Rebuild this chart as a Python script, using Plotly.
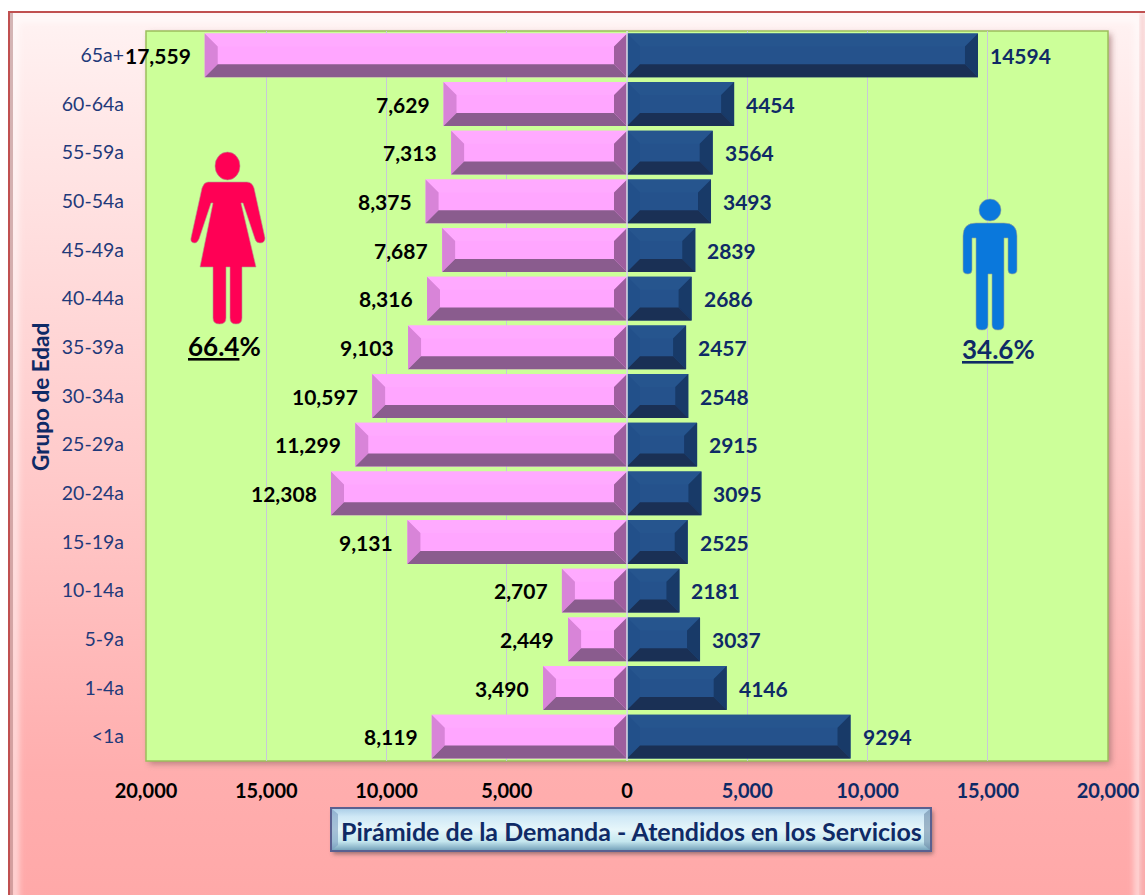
import base64
import plotly.graph_objects as go

age_groups = ["65a+", "60-64a", "55-59a", "50-54a", "45-49a", "40-44a", "35-39a", "30-34a",
              "25-29a", "20-24a", "15-19a", "10-14a", "5-9a", "1-4a", "<1a"]
women = [17559, 7629, 7313, 8375, 7687, 8316, 9103, 10597, 11299, 12308, 9131, 2707, 2449, 3490, 8119]
men = [14594, 4454, 3564, 3493, 2839, 2686, 2457, 2548, 2915, 3095, 2525, 2181, 3037, 4146, 9294]
x_ticks = [-20000, -15000, -10000, -5000, 0, 5000, 10000, 15000, 20000]
women_share = "66.4"
men_share = "34.6"
title_text = "Pirámide de la Demanda - Atendidos en los Servicios"
y_title = "Grupo de Edad"

W, H = 1145, 895
L, R, T, B = 146, 1108, 31, 761
PW, PH = R - L, B - T
FONT = "Lato"
NAVY = "#0F2A66"
BEVEL_X = 13 / PW * 40000
BEVEL_Y = 13 / (PH / 15)
HALF = 0.45
ys = list(range(len(age_groups)))


def svg_uri(body):
    svg = f'<svg xmlns="http://www.w3.org/2000/svg" width="{W}" height="{H}" viewBox="0 0 {W} {H}">{body}</svg>'
    return "data:image/svg+xml;base64," + base64.b64encode(svg.encode()).decode()


def page_image(body, layer):
    return dict(source=svg_uri(body), xref="paper", yref="paper", x=-L / PW, y=1 + T / PH,
                sizex=W / PW, sizey=H / PH, xanchor="left", yanchor="top", sizing="stretch", layer=layer)


background = f'''
<defs>
<linearGradient id="bg" x1="0" y1="0" x2="0" y2="1">
<stop offset="0" stop-color="#FFF3F3"/><stop offset="0.12" stop-color="#FFE8E8"/>
<stop offset="0.5" stop-color="#FFCBCB"/><stop offset="0.85" stop-color="#FFAEAE"/><stop offset="1" stop-color="#FFA8A8"/>
</linearGradient>
<linearGradient id="btn" x1="0" y1="0" x2="0" y2="1">
<stop offset="0" stop-color="#A8CCE6"/><stop offset="0.2" stop-color="#CFE8F6"/><stop offset="0.5" stop-color="#E6F6FA"/><stop offset="0.78" stop-color="#C4E6EE"/><stop offset="1" stop-color="#6E9CB6"/>
</linearGradient>
<filter id="soft" x="-5%" y="-5%" width="110%" height="110%"><feGaussianBlur stdDeviation="3"/></filter>
<filter id="soft2" x="-5%" y="-20%" width="110%" height="140%"><feGaussianBlur stdDeviation="2"/></filter>
<clipPath id="page"><rect x="10" y="13" width="{W}" height="{H}"/></clipPath>
</defs>
<rect width="{W}" height="{H}" fill="#FFFFFF"/>
<rect x="9" y="12" width="{W}" height="{H}" fill="url(#bg)" stroke="#C05050" stroke-width="2"/>
<g clip-path="url(#page)">
<rect x="15" y="18" width="{W - 22}" height="{H + 20}" fill="none" stroke="#FFFFFF" stroke-opacity="0.6" stroke-width="7" filter="url(#soft)"/>
<rect x="10" y="13" width="3" height="{H}" fill="#B08080" opacity="0.55"/>
<rect x="{W - 5}" y="13" width="5" height="{H}" fill="#E89090" opacity="0.35" filter="url(#soft2)"/>
</g>
<rect x="{L+3}" y="{T+3}" width="{PW}" height="{PH}" fill="#A07070" filter="url(#soft)" opacity="0.75"/>
<rect x="{L}" y="{T}" width="{PW}" height="{PH}" fill="#CCFF99" stroke="#9CBF5C" stroke-width="1.5"/>
<rect x="333" y="811" width="600" height="43" fill="#806060" filter="url(#soft2)" opacity="0.8"/>
<rect x="331" y="808" width="600" height="43" fill="url(#btn)" stroke="#5A6090" stroke-width="2"/>
<path d="M332 809 L338 814 V845 L332 850 Z" fill="#7C9CC0" opacity="0.6"/>
<path d="M930 809 L924 814 V845 L930 850 Z" fill="#6E8CA8" opacity="0.6"/>
'''

figures = '''
<g fill="#FF0055" stroke="#B0A090" stroke-width="0.6">
<ellipse cx="227.5" cy="166" rx="12.5" ry="14"/>
<path d="M208 182 H247 Q252 182 254 188 L265 238 Q265 243 260 243 Q256 243 255 239 L243 203 H241 L256 267 H242 V318 Q242 324 236 324 Q230 324 230 318 V267 H226 V318 Q226 324 219.5 324 Q213 324 213 318 V267 H200 L213 203 H211 L199 239 Q197 243 195 243 Q190 243 191 238 L202 188 Q204 182 208 182 Z"/>
</g>
<g fill="#0A78DC" stroke="#A0A890" stroke-width="0.6">
<circle cx="990" cy="210" r="11"/>
<path d="M976 223 H1004 Q1017 223 1017 236 V270 Q1017 274 1012 274 Q1008 274 1008 270 V238 H1004 V325 Q1004 330 998 330 Q992 330 992 325 V274 H988 V325 Q988 330 982 330 Q976 330 976 325 V238 H972 V270 Q972 274 968 274 Q963 274 963 270 V236 Q963 223 976 223 Z"/>
</g>
'''


def polygons(values, side, face):
    """Bevel facets of each bar, built from its value on the x axis."""
    px, py = [], []
    for y, v in zip(ys, values):
        end = side * v
        inner_end = end - side * BEVEL_X
        inner_zero = side * BEVEL_X
        top, bot = y - HALF, y + HALF
        itop, ibot = top + BEVEL_Y, bot - BEVEL_Y
        pts = {
            "end": [(end, top), (inner_end, itop), (inner_end, ibot), (end, bot)],
            "zero": [(0, top), (inner_zero, itop), (inner_zero, ibot), (0, bot)],
            "top": [(0, top), (inner_zero, itop), (inner_end, itop), (end, top)],
            "bottom": [(0, bot), (inner_zero, ibot), (inner_end, ibot), (end, bot)],
        }[face]
        px += [p[0] for p in pts] + [pts[0][0], None]
        py += [p[1] for p in pts] + [pts[0][1], None]
    return px, py


fig = go.Figure()
fig.add_trace(go.Bar(y=ys, x=[-v for v in women], orientation="h", width=2 * HALF,
                     marker=dict(color="#FFA6FF", line=dict(width=0)), name="Mujeres", showlegend=False))
fig.add_trace(go.Bar(y=ys, x=men, orientation="h", width=2 * HALF,
                     marker=dict(color="#25528C", line=dict(width=0)), name="Hombres", showlegend=False))

facets = [
    (women, -1, "top", "#FFAAFF"), (women, -1, "end", "#D884D8"), (women, -1, "zero", "#9E5E9E"), (women, -1, "bottom", "#8A5C8E"),
    (men, 1, "top", "#26558E"), (men, 1, "zero", "#22508A"), (men, 1, "end", "#183A68"), (men, 1, "bottom", "#1A3055"),
]
for values, side, face, color in facets:
    px, py = polygons(values, side, face)
    fig.add_trace(go.Scatter(x=px, y=py, mode="lines", fill="toself", fillcolor=color,
                             line=dict(width=0), hoverinfo="skip", showlegend=False))

annotations = []
for y, v in zip(ys, women):
    annotations.append(dict(x=-v, y=y, text=f"<b>{v:,}</b>", showarrow=False, xanchor="right", yanchor="middle", xshift=-12,
                            font=dict(family=FONT, size=21, color="#000000")))
for y, v in zip(ys, men):
    annotations.append(dict(x=v, y=y, text=f"<b>{v}</b>", showarrow=False, xanchor="left", yanchor="middle", xshift=10,
                            font=dict(family=FONT, size=21, color=NAVY)))
annotations += [
    dict(xref="paper", yref="paper", x=(631 - L) / PW, y=1 - (831 - T) / PH, text=f"<b>{title_text}</b>",
         showarrow=False, xanchor="center", yanchor="middle", font=dict(family=FONT, size=25, color=NAVY)),
    dict(xref="paper", yref="paper", x=(224 - L) / PW, y=1 - (346 - T) / PH, text=f"<b><u>{women_share}</u>%</b>",
         showarrow=False, xanchor="center", yanchor="middle", font=dict(family=FONT, size=26, color="#000000")),
    dict(xref="paper", yref="paper", x=(998 - L) / PW, y=1 - (349 - T) / PH, text=f"<b><u>{men_share}</u>%</b>",
         showarrow=False, xanchor="center", yanchor="middle", font=dict(family=FONT, size=26, color=NAVY)),
    dict(xref="paper", yref="paper", x=(40 - L) / PW, y=1 - (397 - T) / PH, text=f"<b>{y_title}</b>", textangle=-90,
         showarrow=False, xanchor="center", yanchor="middle", font=dict(family=FONT, size=22.5, color=NAVY)),
]

tick_text = [f'<b><span style="color:{"#000000" if t <= 0 else NAVY}">{abs(t):,}</span></b>' for t in x_ticks]

fig.update_layout(
    width=W, height=H, autosize=False, barmode="overlay", showlegend=False,
    margin=dict(l=L, r=W - R, t=T, b=H - B, pad=0, autoexpand=False),
    paper_bgcolor="rgba(0,0,0,0)", plot_bgcolor="rgba(0,0,0,0)",
    images=[page_image(background, "below"), page_image(figures, "above")],
    annotations=annotations,
    shapes=[dict(type="line", xref="x", yref="paper", x0=0, x1=0, y0=0, y1=1, layer="above",
                 line=dict(color="#DCDCE6", width=1.5))],
    xaxis=dict(range=[-20000, 20000], tickvals=x_ticks, ticktext=tick_text, ticks="", ticklabelstandoff=16,
               automargin=False,
               tickfont=dict(family=FONT, size=20, color="#000000"), showgrid=True, gridcolor="#C8C8D8", gridwidth=1,
               zeroline=False, showline=False, fixedrange=True),
    yaxis=dict(range=[14.5, -0.5], tickvals=ys, ticktext=age_groups, ticks="", ticklabelstandoff=21,
               automargin=False,
               tickfont=dict(family=FONT, size=19.5, color="#1F3A7A"), showgrid=False, zeroline=False,
               showline=False, fixedrange=True),
)

fig.write_html("out.html", config=dict(displayModeBar=False),
               post_script="document.body.style.margin='0';document.documentElement.style.overflow='hidden';")
